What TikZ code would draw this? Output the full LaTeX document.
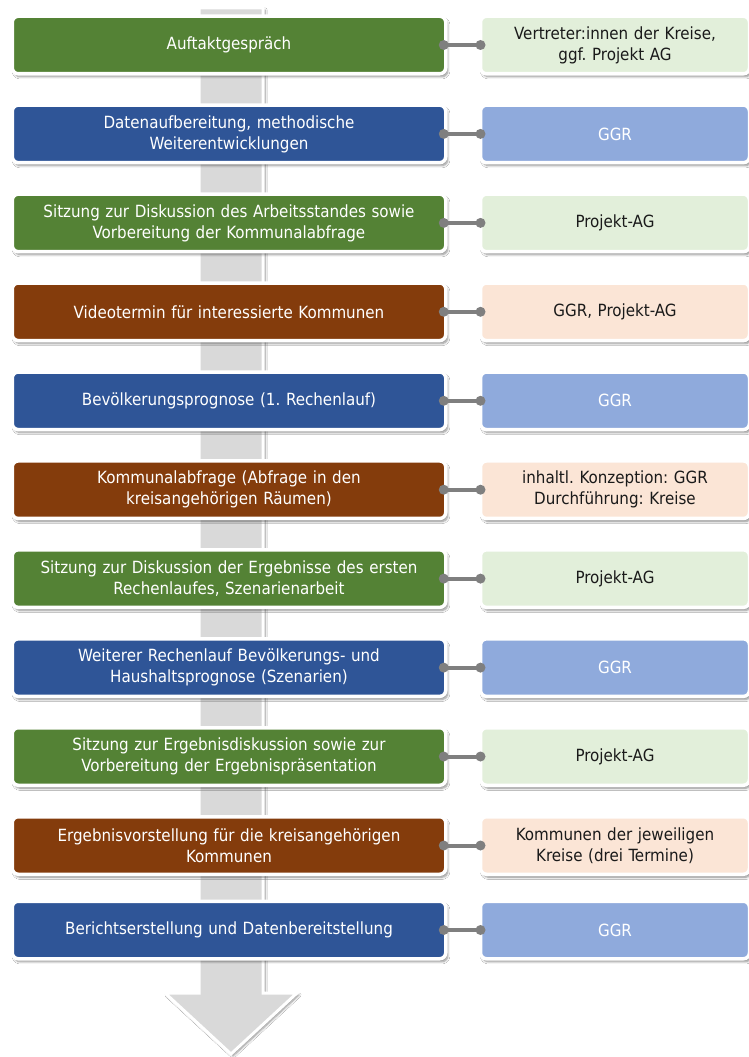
\documentclass[tikz,border=0pt]{standalone}
\usepackage{fontspec}
\setmainfont{DejaVu Sans Condensed}
\usetikzlibrary{shadows.blur}
\frenchspacing
\definecolor{dgreen}{HTML}{548235}
\definecolor{dblue}{HTML}{2F5597}
\definecolor{dbrown}{HTML}{843C0C}
\definecolor{lgreen}{HTML}{E2EFDA}
\definecolor{lblue}{HTML}{8FAADC}
\definecolor{lpeach}{HTML}{FBE5D6}
\definecolor{shaftgray}{HTML}{D9D9D9}
\definecolor{conngray}{HTML}{7F7F7F}
\definecolor{txt}{HTML}{1A1A1A}
\begin{document}
\begin{tikzpicture}[x=1pt,y=-1pt,
  boxbase/.style={rectangle, rounded corners=6pt, draw=white, line width=3.5pt,
    minimum height=57.5pt, outer sep=0pt, align=center,
    font=\fontsize{16.8}{21}\selectfont,
    blur shadow={shadow xshift=2pt, shadow yshift=-3pt, shadow blur steps=6, shadow opacity=45}},
  lbox/.style={boxbase, minimum width=433.5pt, text width=425pt, text=white},
  rbox/.style={boxbase, minimum width=269pt, text width=260pt},
  gL/.style={lbox, fill=dgreen},
  bL/.style={lbox, fill=dblue},
  oL/.style={lbox, fill=dbrown},
  gR/.style={rbox, fill=lgreen, text=txt},
  bR/.style={rbox, fill=lblue, text=white},
  oR/.style={rbox, fill=lpeach, text=txt},
  conn/.style={draw=conngray, line width=4pt},
  dot/.style={fill=conngray}
]
\useasboundingbox (0,0) rectangle (749,1057);
\fill[white] (0,0) rectangle (749,1057);
% big arrow
\path[fill=shaftgray, draw=white, line width=3pt,
  blur shadow={shadow xshift=2pt, shadow yshift=-2pt, shadow blur steps=6, shadow opacity=45}]
  (199,8) -- (263,8) -- (263,993) -- (297,993) -- (231,1054) -- (165,993) -- (199,993) -- cycle;

\node[gL] (L1) at (229,45) {Auftaktgespräch};
\node[gR] (R1) at (615,45) {Vertreter:innen der Kreise,\\ggf. Projekt AG};
\node[bL] (L2) at (229,133.9) {Datenaufbereitung, methodische\\Weiterentwicklungen};
\node[bR] (R2) at (615,133.9) {GGR};
\node[gL] (L3) at (229,222.9) {Sitzung zur Diskussion des Arbeitsstandes sowie\\Vorbereitung der Kommunalabfrage};
\node[gR] (R3) at (615,222.9) {Projekt-AG};
\node[oL] (L4) at (229,311.8) {Videotermin für interessierte Kommunen};
\node[oR] (R4) at (615,311.8) {GGR, Projekt-AG};
\node[bL] (L5) at (229,400.8) {Bevölkerungsprognose (1. Rechenlauf)};
\node[bR] (R5) at (615,400.8) {GGR};
\node[oL] (L6) at (229,489.7) {Kommunalabfrage (Abfrage in den\\kreisangehörigen Räumen)};
\node[oR] (R6) at (615,489.7) {inhaltl. Konzeption: GGR\\Durchführung: Kreise};
\node[gL] (L7) at (229,578.6) {Sitzung zur Diskussion der Ergebnisse des ersten\\Rechenlaufes, Szenarienarbeit};
\node[gR] (R7) at (615,578.6) {Projekt-AG};
\node[bL] (L8) at (229,667.6) {Weiterer Rechenlauf Bevölkerungs- und\\Haushaltsprognose (Szenarien)};
\node[bR] (R8) at (615,667.6) {GGR};
\node[gL] (L9) at (229,756.5) {Sitzung zur Ergebnisdiskussion sowie zur\\Vorbereitung der Ergebnispräsentation};
\node[gR] (R9) at (615,756.5) {Projekt-AG};
\node[oL] (L10) at (229,845.5) {Ergebnisvorstellung für die kreisangehörigen\\Kommunen};
\node[oR] (R10) at (615,845.5) {Kommunen der jeweiligen\\Kreise (drei Termine)};
\node[bL] (L11) at (229,930) {Berichtserstellung und Datenbereitstellung};
\node[bR] (R11) at (615,930) {GGR};

\foreach \i in {1,...,11}{
  \draw[conn] ([xshift=-2pt]L\i.east) -- (R\i.west);
  \fill[dot] ([xshift=-2pt]L\i.east) circle (5pt);
  \fill[dot] (R\i.west) circle (5pt);
}
\end{tikzpicture}
\end{document}
